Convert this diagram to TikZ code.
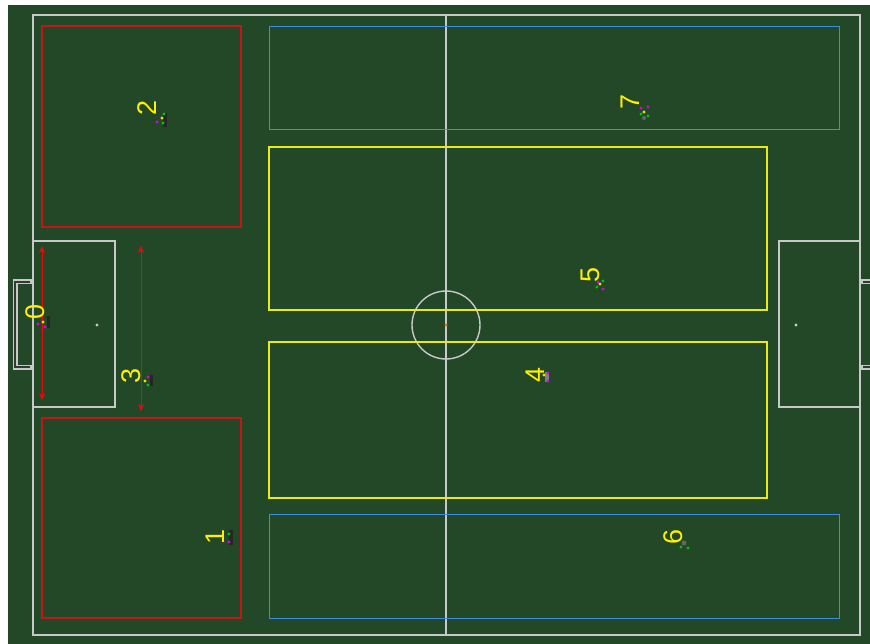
\documentclass[tikz,border=0pt]{standalone}
\usepackage{fontspec}
\setmainfont{Liberation Sans}
\usetikzlibrary{arrows.meta}
\definecolor{pitch}{RGB}{35,72,40}
\definecolor{fline}{RGB}{200,200,200}
\definecolor{zonered}{RGB}{200,20,20}
\definecolor{arrred}{RGB}{235,10,10}
\definecolor{zoneblue}{RGB}{60,140,230}
\definecolor{zoneyellow}{RGB}{235,235,20}
\definecolor{lbl}{RGB}{255,240,0}
\definecolor{mag}{RGB}{220,0,220}
\definecolor{grn}{RGB}{0,200,0}
\definecolor{ylw}{RGB}{230,230,0}
\definecolor{ballc}{RGB}{220,120,0}
\definecolor{goalc}{RGB}{55,55,55}
\begin{document}
\begin{tikzpicture}[x=1pt,y=-1pt,
  fieldline/.style={draw=fline,line width=1.9pt},
  redzone/.style={draw=zonered,line width=1.2pt},
  bluezone/.style={draw=zoneblue,line width=1pt},
  yelzone/.style={draw=zoneyellow,line width=1.2pt},
  rarrow/.style={draw=arrred,line width=0.9pt,{Stealth[length=7pt,width=6pt]}-{Stealth[length=7pt,width=6pt]}},
  robotlbl/.style={text=lbl,font=\fontsize{27}{27}\selectfont,rotate=90,inner sep=0pt},
  dotm/.style={fill=mag},
  dotg/.style={fill=grn},
  doty/.style={fill=ylw},
  body/.style={fill=black!85}]
\useasboundingbox (0,0) rectangle (870,644);
\fill[white] (0,0) rectangle (870,644);
\fill[pitch] (8,5) rectangle (870,644);
% goals
\begin{scope}
\clip (8,5) rectangle (870,644);
\draw[fline,line width=5pt] (32,282) -- (15,282) -- (15,367) -- (32,367);
\draw[goalc,line width=2.2pt] (30,282) -- (15,282) -- (15,367) -- (30,367);
\draw[fline,line width=5pt] (861,282) -- (880,282) -- (880,367) -- (861,367);
\draw[goalc,line width=2.2pt] (863,282) -- (880,282) -- (880,367) -- (863,367);
\end{scope}
% field
\draw[fieldline] (33,15) rectangle (860,635);
\draw[fieldline] (446,15) -- (446,635);
\draw[fieldline,line width=1.4pt] (446,325) circle (34);
\draw[fieldline] (33,241) rectangle (115,407);
\draw[fieldline] (779,241) rectangle (860,407);
\fill[fline] (97,325) circle (1.6);
\fill[fline] (796,325) circle (1.6);
% zones
\draw[redzone] (42,26) rectangle (241,227);
\draw[redzone] (42,418) rectangle (241,618);
\draw[bluezone] (269,27) rectangle (839,130);
\draw[bluezone] (269,514) rectangle (839,618);
\draw[yelzone] (269,147) rectangle (767,310);
\draw[yelzone] (269,342) rectangle (767,498);
% arrows
\coordinate (a0t) at (42,246);
\coordinate (a0b) at (42,400);
\coordinate (a3t) at (141,246);
\coordinate (a3b) at (141,411);
\draw[rarrow] (a0t) -- (a0b);
\draw[rarrow,line width=0.5pt] (a3t) -- (a3b);
% ball
\fill[ballc] (446,325) circle (1.6);
% robots
\fill[body] (47,316) rectangle (50,328);
\fill[dotm] (38,324) circle (1.6); \fill[dotm] (45,327) circle (1.6); \fill[doty] (43,322) circle (1.6);
\node[robotlbl] (r0) at (35,312) {0};
\fill[body] (163,113) rectangle (167,127);
\fill[doty] (162,118) circle (1.6); \fill[dotm] (157,122) circle (1.6); \fill[dotg] (164,114) circle (1.6); \fill[dotg] (163,123) circle (1.6);
\node[robotlbl] (r2) at (147,108) {2};
\fill[body] (150,375) rectangle (153,386);
\fill[dotm] (148,377) circle (1.6); \fill[dotg] (148,385) circle (1.6); \fill[doty] (145,381) circle (1.6);
\node[robotlbl] (r3) at (131,376) {3};
\fill[body] (229,530) rectangle (233,545);
\fill[dotg] (229,534) circle (1.6); \fill[dotm] (223,541) circle (1.6); \fill[dotm] (229,542) circle (1.6);
\node[robotlbl] (r1) at (215,537) {1};
\fill[black!60] (644,118) circle (2);
\fill[dotm] (641,108) circle (1.6); \fill[dotm] (648,107) circle (1.6); \fill[doty] (644,112) circle (1.6); \fill[dotg] (641,114) circle (1.6); \fill[dotg] (648,116) circle (1.6);
\node[robotlbl] (r7) at (630,102) {7};
\fill[dotm] (598,282) circle (1.6); \fill[dotm] (603,289) circle (1.6); \fill[dotg] (597,287) circle (1.6); \fill[dotg] (603,281) circle (1.6); \fill[doty] (600,284) circle (1.6);
\node[robotlbl] (r5) at (590,275) {5};
\fill[black!50] (545,372) rectangle (549,382);
\fill[dotm] (548,373) circle (1.6); \fill[dotm] (548,381) circle (1.6); \fill[doty] (544,375) circle (1.6);
\node[robotlbl] (r4) at (535,375) {4};
\fill[black!60] (684,543) circle (2.5);
\fill[dotg] (681,547) circle (1.6); \fill[dotg] (688,548) circle (1.6);
\node[robotlbl] (r6) at (673,537) {6};
\end{tikzpicture}
\end{document}
